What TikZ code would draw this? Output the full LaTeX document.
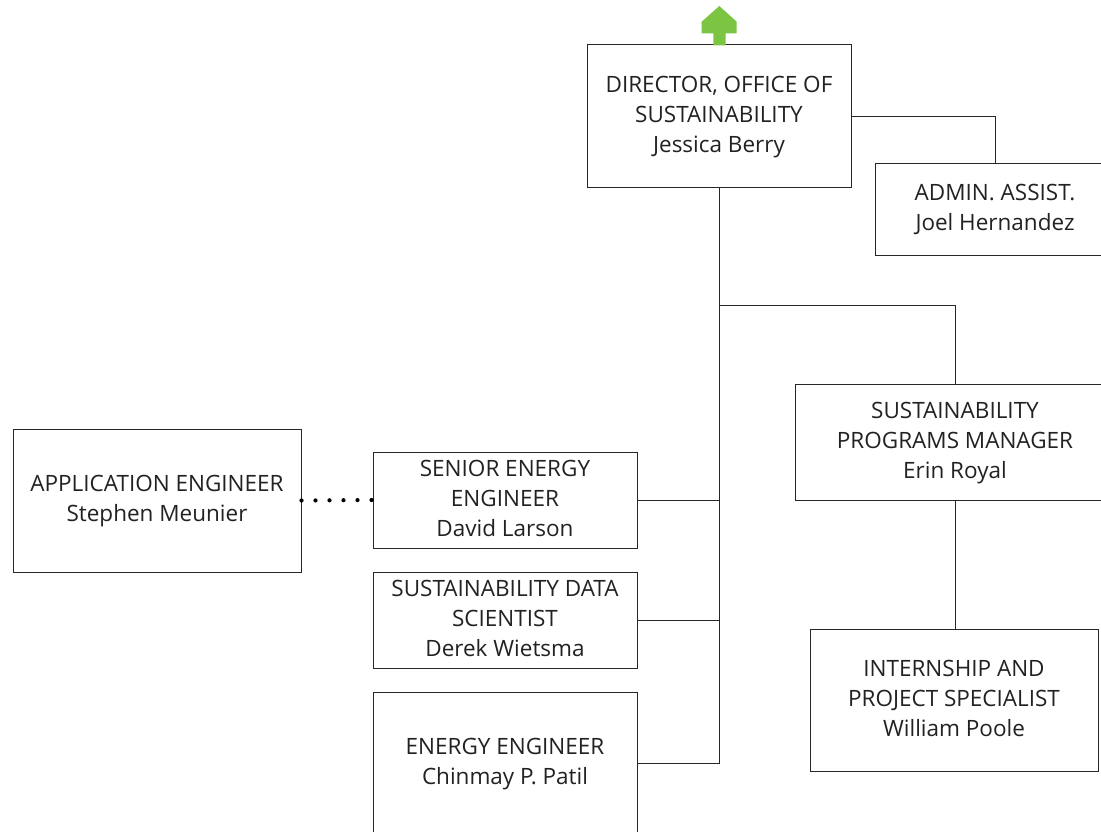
\documentclass[tikz,border=0pt]{standalone}
\usepackage{fontspec}
\setmainfont{Open Sans}
\definecolor{arrowgreen}{HTML}{7CC543}
\definecolor{txt}{HTML}{222222}
\newcommand{\boxlbl}[1]{\raisebox{-3pt}{\begin{tabular}{@{}c@{}}#1\end{tabular}}}
\begin{document}
\begin{tikzpicture}[x=1pt,y=-1pt,
  box/.style={draw=black!85, line width=1pt, text=txt,
    font=\fontsize{22.5}{30}\selectfont, inner sep=0pt},
  conn/.style={draw=black!85, line width=1pt},
  dots/.style={line width=4.2pt, line cap=round, dash pattern=on 0pt off 14pt}]
\useasboundingbox (0,0) rectangle (1101,832);
\clip (0,0) rectangle (1101,832);
\fill[white] (0,0) rectangle (1101,832);
% nodes
\node[box, minimum width=264pt, minimum height=143pt] (dir) at (719,116.5)
  {\boxlbl{DIRECTOR, OFFICE OF\\SUSTAINABILITY\\Jessica Berry}};
\node[box, minimum width=240pt, minimum height=91pt] (admin) at (995,209.5)
  {\boxlbl{ADMIN. ASSIST.\\Joel Hernandez}};
\node[box, minimum width=320pt, minimum height=116pt] (spm) at (955,442)
  {\boxlbl{SUSTAINABILITY\\PROGRAMS MANAGER\\Erin Royal}};
\node[box, minimum width=288pt, minimum height=142pt] (intern) at (954,700)
  {\boxlbl{INTERNSHIP AND\\PROJECT SPECIALIST\\William Poole}};
\node[box, minimum width=264pt, minimum height=96pt] (se) at (505,500)
  {\boxlbl{SENIOR ENERGY\\ENGINEER\\David Larson}};
\node[box, minimum width=264pt, minimum height=96pt] (ds) at (505,620)
  {\boxlbl{SUSTAINABILITY DATA\\SCIENTIST\\Derek Wietsma}};
\node[box, minimum width=264pt, minimum height=142pt] (ee) at (505,763)
  {\boxlbl{ENERGY ENGINEER\\Chinmay P. Patil}};
\node[box, minimum width=288pt, minimum height=143pt] (app) at (157,500.5)
  {\boxlbl{APPLICATION ENGINEER\\Stephen Meunier}};
\coordinate (j) at (719,305);
% connectors
\draw[conn] (dir.east) -| (admin.north);
\draw[conn] (dir.south) -- (dir.south |- ee.east) -- (ee.east);
\draw[conn] (j) -| (spm.north);
\draw[conn] (spm.south) -- (spm.south |- intern.north);
\draw[conn] (se.east) -- (se.east -| dir.south);
\draw[conn] (ds.east) -- (ds.east -| dir.south);
\draw[dots] (app.east) -- (se.west);
% green arrow
\fill[arrowgreen] (713.3,45.5) -- (713.3,33.3) -- (701.7,33.3) -- (701.7,21.7)
  -- (719.3,6) -- (736.7,21.7) -- (736.7,33.3) -- (725.5,33.3) -- (725.5,45.5) -- cycle;
\end{tikzpicture}
\end{document}
